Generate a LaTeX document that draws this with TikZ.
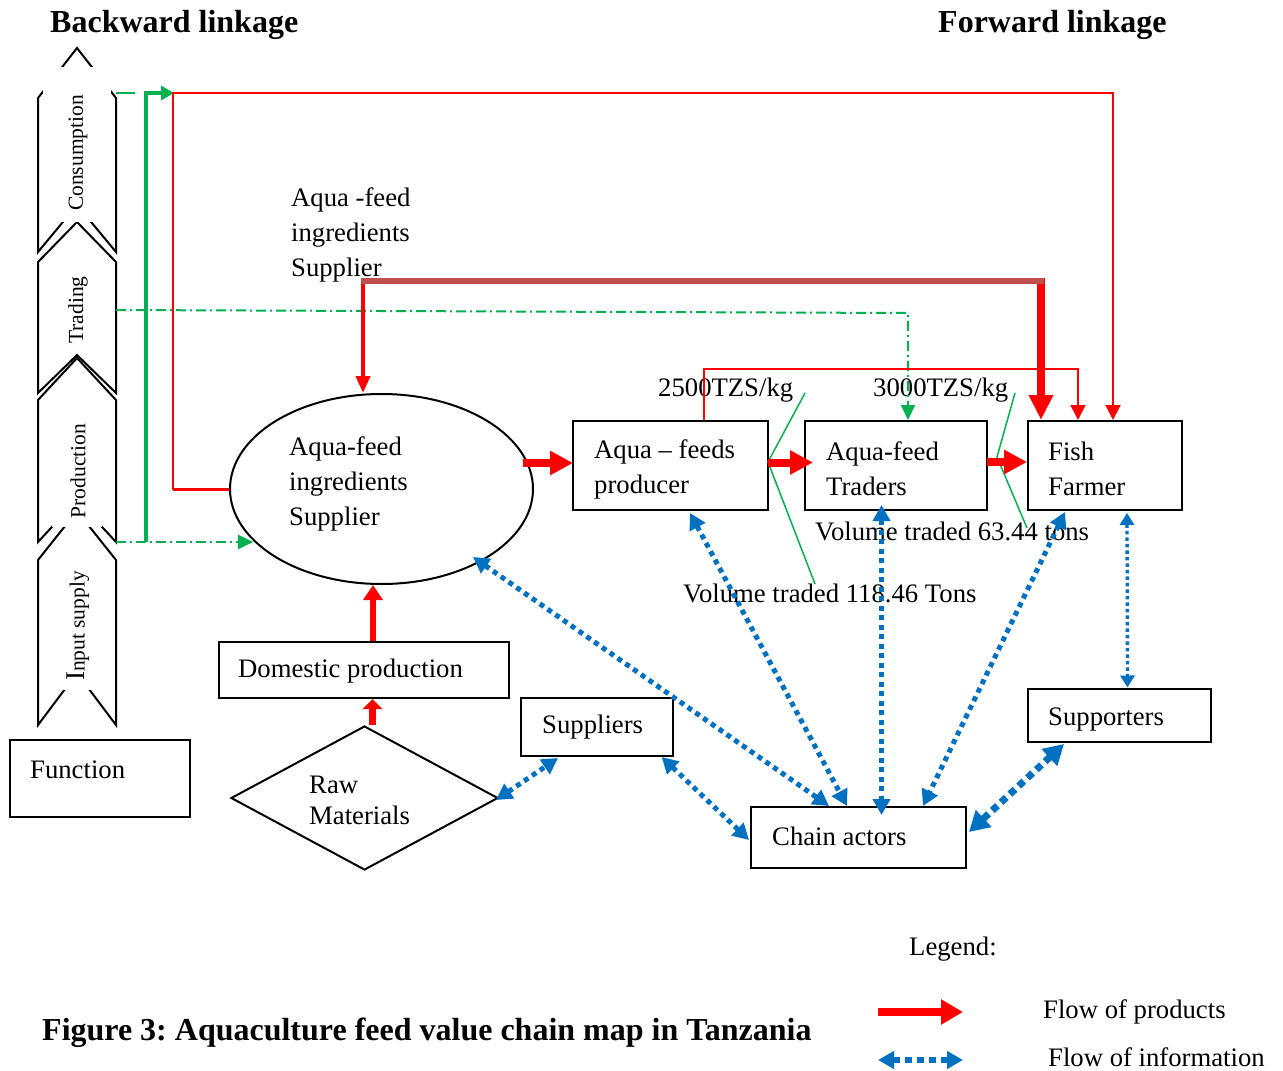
\documentclass[tikz,border=0pt]{standalone}
\usepackage{fontspec}
\setmainfont{Liberation Serif}
\usetikzlibrary{arrows.meta,shapes.geometric,calc}
\definecolor{rd}{HTML}{FF0000}
\definecolor{grn}{HTML}{00B050}
\definecolor{blu}{HTML}{0070C0}
\definecolor{brn}{HTML}{C0504D}
\newcommand\txtsz{\fontsize{26.7}{35}\selectfont}
\newcommand\ttlsz{\fontsize{32}{38}\selectfont\bfseries}
\newcommand\chvsz{\fontsize{21.5}{24}\selectfont}
\frenchspacing
\begin{document}
\begin{tikzpicture}[x=1pt,y=-1pt,line join=miter,
  box/.style={draw=black,line width=2pt,rectangle,inner sep=0pt},
  lbl/.style={font=\txtsz,anchor=west,inner sep=0pt,align=left,yshift=-3pt},
  ttl/.style={font=\ttlsz,anchor=west,inner sep=0pt,yshift=-3pt},
  chv/.style={draw=black,line width=2pt},
  chvtxt/.style={font=\chvsz,rotate=90,inner sep=0pt},
  redthin/.style={draw=rd,line width=2pt,-{Triangle[length=15pt,width=15pt]}},
  prodflow/.style={draw=rd,line width=8pt,-{Triangle[length=23pt,width=23pt]}},
  greenflow/.style={draw=grn,line width=2pt,dash pattern=on 10pt off 4pt on 2pt off 4pt,-{Triangle[length=15pt,width=14pt]}},
  info/.style={draw=blu,line width=5pt,dash pattern=on 5pt off 4.5pt,{Triangle[length=16pt,width=17pt]}-{Triangle[length=16pt,width=17pt]}}
]
\fill[white] (0,0) rectangle (1283,1071);
\useasboundingbox (0,0) rectangle (1283,1071);

% titles
\node[ttl] (bwd) at (50,22) {Backward linkage};
\node[ttl] (fwd) at (938,22) {Forward linkage};
\node[ttl] (cap) at (42,1030) {Figure 3: Aquaculture feed value chain map in Tanzania};

% chevrons
\draw[chv] (77,48) -- (116,98) -- (116,252) -- (77,205) -- (38,252) -- (38,98) -- cycle;
\draw[chv] (77,222) -- (116,262) -- (116,393) -- (77,355) -- (38,393) -- (38,262) -- cycle;
\draw[chv] (77,358) -- (116,400) -- (116,542) -- (77,500) -- (38,542) -- (38,400) -- cycle;
\draw[chv] (77,511) -- (116,560) -- (116,725) -- (77,673) -- (38,725) -- (38,560) -- cycle;
\fill[white] (43,67) rectangle (111,222);
\fill[white] (52,405) rectangle (102,527);
\fill[white] (55,565) rectangle (100,690);
\node[chvtxt] (cons) at (78,153) {Consumption};
\node[chvtxt] (trd) at (78,310) {Trading};
\node[chvtxt] (prd) at (78,471) {Production};
\node[chvtxt] (inp) at (78,626) {{\fontsize{27}{28}\selectfont I}nput supply};
\coordinate (c1r) at (116,93);
\coordinate (c2r) at (116,310);
\coordinate (c3r) at (116,542);

\node[box,minimum width=180,minimum height=77] (func) at (100,778.5) {};
\node[lbl] at (30,767) {Function};

% main shapes
\node[draw=black,line width=2pt,ellipse,minimum width=303,minimum height=190,inner sep=0pt] (ell) at (381.5,489) {};
\node[lbl] at (289,481) {Aqua-feed\\ingredients\\Supplier};
\node[box,minimum width=195,minimum height=89] (prod) at (670.5,465.5) {};
\node[lbl] at (594,466) {Aqua -- feeds\\producer};
\node[box,minimum width=182,minimum height=89] (trad) at (896,465.5) {};
\node[lbl] at (826,466) {Aqua-feed\\Traders};
\node[box,minimum width=154,minimum height=89] (fish) at (1105,465.5) {};
\node[lbl] at (1048,466) {Fish\\Farmer};
\node[box,minimum width=290,minimum height=56] (dom) at (364,670) {};
\node[lbl] at (238,668) {Domestic production};
\node[draw=black,line width=2pt,diamond,minimum width=267,minimum height=144,inner sep=0pt,aspect=1.85] (raw) at (364.5,798) {};
\node[lbl] at (309,797.5) {Raw\\[-4pt]Materials};
\node[box,minimum width=152,minimum height=58] (supl) at (597,727) {};
\node[lbl] at (542,724) {Suppliers};
\node[box,minimum width=215,minimum height=61] (chain) at (858.5,837.5) {};
\node[lbl] at (772,833) {Chain actors};
\node[box,minimum width=183,minimum height=53] (supp) at (1119.5,715.5) {};
\node[lbl] at (1048,716) {Supporters};

% free labels
\node[lbl] (ais) at (291,232) {Aqua -feed\\ingredients\\Supplier};
\node[lbl] (p1) at (658,387) {2500TZS/kg};
\node[lbl] (p2) at (873,387) {3000TZS/kg};
\node[lbl] (v2) at (815,528) {Volume traded 63.44 tons};
\node[lbl] (v1) at (683,590) {Volume traded 118.46 Tons};

% green callout lines
\draw[grn,line width=1.5pt] (805,393) -- (768,462) -- (815,584);
\draw[grn,line width=1.5pt] (1015,393) -- (997,457) -- (1027,528);

% green information lines
\draw[grn,line width=2pt,dash pattern=on 19pt off 40pt] (c1r) -- (146,93);
\draw[grn,line width=3.5pt,-{Triangle[length=13pt,width=14pt]}] (146,542) -- (146,93) -- (174,93);
\draw[greenflow] (c2r) -- (908,313) -- ([shift={(12,0)}]trad.north);
\draw[greenflow] (c3r) -- (c3r -| ell.202);

% red flows
\draw[redthin] (ell.west) -- (173,489) -- (173,93) -| ([shift={(8,0)}]fish.north);
\draw[rd,line width=3pt] (ell.west) -- (173,489);
\draw[redthin,line width=1.6pt] ([shift={(33.5,0)}]prod.north) -- ++(0,-51) -| ([shift={(-27,0)}]fish.north);
\draw[rd,line width=4pt,-{Triangle[length=17pt,width=14pt]}] (363,278) -- ([shift={(-18.5,0)}]ell.north);
\draw[rd,line width=7.5pt,-{Triangle[length=25pt,width=23pt]}] (1041,278) -- ([shift={(-64,0)}]fish.north);
\draw[brn,line width=6pt] (361,281) -- (1044,281);
\draw[prodflow] ([shift={(-11,-26)}]ell.east) -- ([shift={(1,-2.5)}]prod.west);
\draw[prodflow] ([shift={(-1,-3)}]prod.east) -- ([shift={(9,-3)}]trad.west);
\draw[prodflow] ([shift={(-1,-3.5)}]trad.east) -- ([shift={(0,-3.5)}]fish.west);
\draw[rd,line width=6pt,-{Triangle[length=15pt,width=19pt]}] ([shift={(9,0)}]dom.north) -- ([shift={(-8.5,0)}]ell.south);
\draw[rd,line width=6.5pt,-{Triangle[length=10pt,width=19pt]}] ([shift={(8,0)}]raw.north) -- ([shift={(8.5,0)}]dom.south);

% information flows
\draw[info] ([shift={(91.5,68)}]ell.center) -- ([shift={(-29.5,0)}]chain.north);
\draw[info] ([shift={(19.5,2)}]prod.south) -- ([shift={(-11.5,0)}]chain.north);
\draw[info] ([shift={(-14.5,-6)}]trad.south) -- ([shift={(23,9)}]chain.north);
\draw[info] ([shift={(-40,1)}]fish.south) -- ([shift={(64.5,0)}]chain.north);
\draw[info,line width=3.3pt,dash pattern=on 3.5pt off 3pt,{Triangle[length=12pt,width=14pt]}-{Triangle[length=12pt,width=14pt]}] ([shift={(22,2)}]fish.south) -- ([shift={(8,-0.5)}]supp.north);
\draw[info,line width=7pt,dash pattern=on 7pt off 5pt,{Triangle[length=20pt,width=22pt]}-{Triangle[length=20pt,width=22pt]}] ([shift={(-55.5,1)}]supp.south) -- ([shift={(2,-5.5)}]chain.east);
\draw[info] ([shift={(64.7,0)}]supl.south) -- ([shift={(-1,2.5)}]chain.west);
\draw[info] ([shift={(-3,2)}]raw.east) -- ([shift={(-39,1)}]supl.south);

% legend
\node[lbl] (leg) at (909,946) {Legend:};
\coordinate (l1a) at (878,1012);
\coordinate (l1b) at (963,1012);
\coordinate (l2a) at (878,1060);
\coordinate (l2b) at (963,1060);
\draw[rd,line width=8.5pt,-{Triangle[length=22pt,width=24pt]}] (l1a) -- (l1b);
\draw[info,line width=6pt,dash pattern=on 7pt off 5pt] (l2a) -- (l2b);
\node[lbl] (lp) at (1043,1009) {Flow of products};
\node[lbl] (li) at (1048,1054) {Flow of information};
\end{tikzpicture}
\end{document}
